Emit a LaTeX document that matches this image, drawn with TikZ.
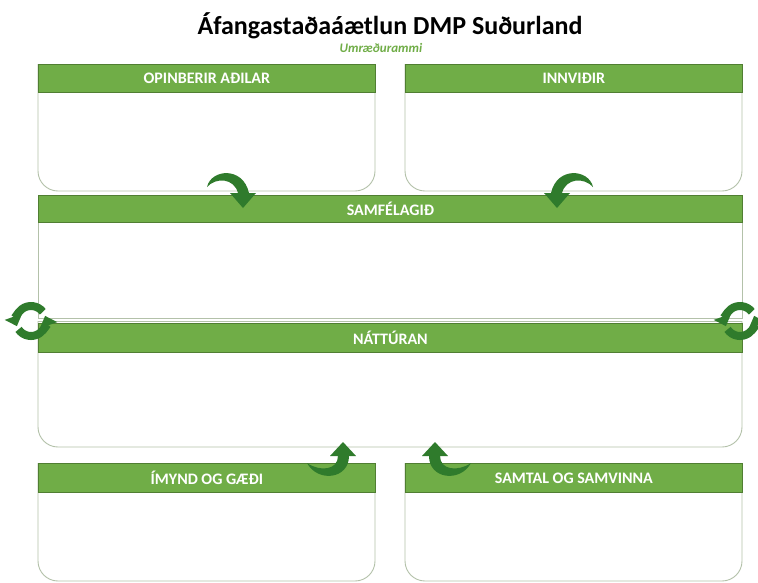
\documentclass[tikz,border=0pt]{standalone}
\usepackage{fontspec}
\setmainfont{Carlito}
\usetikzlibrary{arrows.meta}
\definecolor{hdr}{HTML}{70AD47}
\definecolor{hdrline}{HTML}{507E32}
\definecolor{boxline}{HTML}{B3C1A9}
\definecolor{arr}{HTML}{2F7B2C}
\begin{document}
\begin{tikzpicture}[x=1pt,y=-1pt,
  header/.style={fill=hdr, draw=hdrline, line width=0.8pt, text=white,
    font=\bfseries\fontsize{16}{16}\selectfont, inner sep=0pt, anchor=north west},
  boxedge/.style={draw=boxline, line width=0.9pt},
  curarrow/.style={fill=arr, draw=none},
  circarrow/.style={draw=arr, line width=8pt, -{Triangle[length=10pt,width=18pt]}},
]
\useasboundingbox (0,0) rectangle (758,582);
\fill[white] (0,0) rectangle (758,582);

% title
\node[font=\bfseries\fontsize{26}{26}\selectfont] (title) at (390,26) {Áfangastaðaáætlun DMP Suðurland};
\node[font=\bfseries\itshape\fontsize{13}{13}\selectfont, text=hdr] (sub) at (381,48) {Umræðurammi};

% box outlines
\draw[boxedge, rounded corners=20pt] (38,64) -- (38,191) -- (375,191) -- (375,64);
\draw[boxedge, rounded corners=20pt] (405,64) -- (405,191) -- (742,191) -- (742,64);
\draw[boxedge] (38,195) rectangle (742,318);
\draw[boxedge] (38,321) -- (742,321);
\draw[boxedge, rounded corners=20pt] (38,321) -- (38,447) -- (742,447) -- (742,321);
\draw[boxedge, rounded corners=20pt] (38,463) -- (38,581) -- (375,581) -- (375,463);
\draw[boxedge, rounded corners=20pt] (405,463) -- (405,581) -- (742,581) -- (742,463);

% headers
\node[header, minimum width=337pt, minimum height=28pt] (opa) at (38,64) {OPINBERIR AÐILAR};
\node[header, minimum width=337pt, minimum height=28pt] (inn) at (405,64) {INNVIÐIR};
\node[header, minimum width=704pt, minimum height=27pt] (sam) at (38,195) {SAMFÉLAGIÐ};
\node[header, minimum width=704pt, minimum height=29pt] (nat) at (38,323) {NÁTTÚRAN};
\node[header, minimum width=337pt, minimum height=29pt] (imy) at (38,463) {ÍMYND OG GÆÐI};
\node[header, minimum width=337pt, minimum height=29pt] (stl) at (405,463) {SAMTAL OG SAMVINNA};

% curved arrows (top)
\fill[curarrow] (207,187) .. controls (211,169) and (243,166) .. (249,193) -- (256,193) -- (243,208) -- (230,193) -- (238,193) .. controls (234,178) and (216,177) .. (207,187) -- cycle;
\fill[curarrow] (593,187) .. controls (589,169) and (557,166) .. (551,193) -- (544,193) -- (557,208) -- (570,193) -- (562,193) .. controls (566,178) and (584,177) .. (593,187) -- cycle;

% curved arrows (bottom)
\fill[curarrow] (343,442) -- (356,456) -- (349,456) .. controls (349,479) and (318,483) .. (307,463) .. controls (320,472) and (338,470) .. (338,456) -- (330,456) -- cycle;
\fill[curarrow] (435,442) -- (422,456) -- (429,456) .. controls (429,479) and (460,483) .. (471,463) .. controls (458,472) and (440,470) .. (440,456) -- (448,456) -- cycle;

% circular arrows
\coordinate (cl) at (31,321);
\coordinate (cr) at (740,321);
\foreach \c in {cl,cr}{
  \draw[circarrow] ([shift={(-38:15)}]\c) arc (-38:-200:15);
  \draw[circarrow] ([shift={(146:15)}]\c) arc (146:-20:15);
}
\end{tikzpicture}
\end{document}
